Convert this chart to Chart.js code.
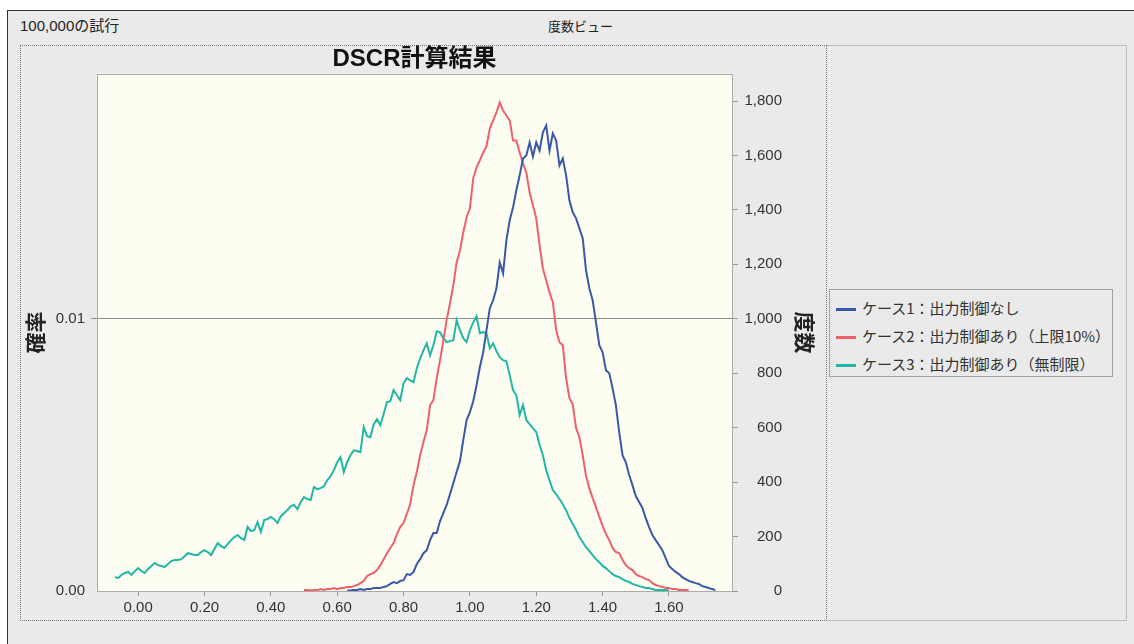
<!DOCTYPE html>
<html lang="ja">
<head>
<meta charset="utf-8">
<title>DSCR計算結果</title>
<script src="https://cdn.jsdelivr.net/npm/chart.js@4.4.0/dist/chart.umd.min.js"></script>
<style>
  body { margin: 0; background: #fff; width: 1134px; height: 644px; position: relative; overflow: hidden;
         font-family: 'Liberation Sans', 'Noto Sans CJK JP', sans-serif; color: #222; }
  .panel { position: absolute; left: 7px; top: 10px; right: 0; bottom: 0; background: #eaeaea;
           border-top: 1px solid #333; border-left: 1px solid #333; }
  .head_l { position: absolute; left: 20px; top: 14px; font-size: 15px; }
  .head_c { position: absolute; left: 548px; top: 16px; font-size: 13px; }
  .chart_box { position: absolute; left: 20px; top: 45px; width: 807px; height: 576px;
               border: 1px dotted #777; box-sizing: border-box; }
  .side_box { position: absolute; left: 827px; top: 45px; width: 300px; height: 576px;
              border: 1px solid #bdbdbd; border-left: none; box-sizing: border-box; }
  #chart_wrap { position: absolute; left: 20px; top: 45px; width: 807px; height: 576px; }
  .legend { position: absolute; left: 829px; top: 289px; width: 284px; height: 88px;
            border: 1px solid #a0a0a0; box-sizing: border-box; padding-top: 4px; }
  .legend div { height: 28px; line-height: 28px; font-size: 15px; font-family: 'Noto Sans CJK JP', sans-serif; color: #333; white-space: nowrap; }
  .legend span { display: inline-block; width: 20px; height: 3px; vertical-align: middle; margin: 0 6px 0 6px; }
</style>
</head>
<body>
<div class="panel"></div>
<div class="head_l">100,000の試行</div>
<div class="head_c">度数ビュー</div>
<div class="chart_box"></div>
<div class="side_box"></div>
<div id="chart_wrap"><canvas id="dscr_chart" width="807" height="576"></canvas></div>
<div class="legend" id="legend"></div>

<script>
// 빈 폭 (DSCR 0.01 단위)
const binWidth = 0.01;

const seriesLabels = ['ケース1：出力制御なし', 'ケース2：出力制御あり（上限10%）', 'ケース3：出力制御あり（無制限）'];
const seriesColors = ['#3a58a8', '#f0606a', '#22b6a6'];

// ケース1 : 0.63 부터
const case1Start = 0.63;
const case1Counts = [
  2, 2, 4, 4, 7, 4, 7,
  7, 11, 11, 11, 15, 18, 26, 33, 29, 37,
  40, 62, 59, 70, 99, 117, 139, 150, 187, 213,
  213, 257, 286, 316, 356, 396, 437, 477, 554, 628,
  657, 697, 756, 822, 877, 958, 1039, 1068, 1112, 1207,
  1167, 1288, 1362, 1409, 1472, 1527, 1589, 1600, 1648, 1596,
  1648, 1618, 1685, 1710, 1618, 1681, 1655, 1563, 1589, 1527,
  1435, 1391, 1369, 1332, 1296, 1178, 1112, 1068, 987, 903,
  877, 811, 800, 745, 683, 584, 499, 473, 426, 389,
  349, 327, 305, 268, 235, 206, 187, 169, 150, 121,
  92, 81, 70, 62, 51, 44, 37, 33, 29, 26,
  18, 15, 11, 7, 4
];

// ケース2 : 0.50 부터
const case2Start = 0.50;
const case2Counts = [
  4, 4, 2, 4, 3, 7, 4, 7, 7, 11,
  7, 11, 11, 15, 15, 18, 22, 29, 37, 55,
  62, 66, 77, 95, 117, 139, 158, 176, 209, 235,
  250, 283, 319, 389, 437, 499, 547, 591, 683, 701,
  782, 848, 921, 995, 1057, 1123, 1207, 1251, 1318, 1373,
  1406, 1516, 1556, 1582, 1611, 1633, 1699, 1729, 1758, 1795,
  1765, 1747, 1729, 1655, 1655, 1611, 1571, 1538, 1464, 1417,
  1369, 1270, 1185, 1141, 1097, 1061, 958, 914, 903, 782,
  708, 686, 598, 565, 499, 422, 378, 341, 308, 272,
  239, 209, 187, 158, 143, 139, 114, 95, 84, 77,
  62, 55, 51, 44, 40, 29, 22, 18, 15, 11,
  11, 7, 7, 4, 4, 4, 2
];

// ケース3 : -0.07 부터
const case3Start = -0.07;
const case3Counts = [
  51, 48, 59, 66, 70, 59, 73,
  84, 73, 66, 81, 92, 103, 95, 92, 88, 99,
  110, 114, 114, 117, 128, 139, 136, 132, 132, 143,
  150, 143, 132, 154, 176, 165, 158, 172, 187, 198,
  206, 194, 187, 235, 220, 224, 253, 217, 261, 264,
  272, 264, 250, 275, 286, 297, 312, 316, 301, 327,
  345, 338, 334, 382, 374, 378, 385, 407, 422, 444,
  473, 492, 437, 473, 499, 517, 514, 510, 602, 569,
  565, 613, 631, 609, 650, 694, 697, 738, 719, 701,
  763, 782, 774, 767, 818, 855, 884, 910, 866, 903,
  954, 950, 929, 914, 918, 921, 995, 958, 929, 914,
  958, 987, 1009, 947, 951, 947, 892, 910, 881, 859,
  848, 844, 793, 738, 719, 646, 683, 628, 613, 598,
  584, 536, 499, 444, 407, 371, 356, 338, 319, 297,
  268, 246, 224, 198, 180, 161, 147, 132, 117, 106,
  92, 84, 73, 62, 55, 51, 44, 37, 33, 26,
  22, 18, 15, 11, 11, 7, 4, 4, 4, 4, 2
];

// 축 눈금
const xTicks = [0, 0.2, 0.4, 0.6, 0.8, 1.0, 1.2, 1.4, 1.6];
const freqTicks = [0, 200, 400, 600, 800, 1000, 1200, 1400, 1600, 1800];
const probTicks = [0, 0.01];
const trials = 100000;
const xMin = -0.124, xMax = 1.79, freqMax = 1900;

function toPoints(start, counts) {
  return counts.map(function (c, i) {
    return { x: Math.round((start + i * binWidth) * 100) / 100, y: c };
  });
}

// 플롯 배경, 테두리
const plotFrame = {
  id: 'plotFrame',
  beforeDraw: function (chart) {
    const a = chart.chartArea, c = chart.ctx;
    c.save();
    c.fillStyle = '#fdfdf1';
    c.fillRect(a.left, a.top, a.right - a.left, a.bottom - a.top);
    c.restore();
  },
  beforeDatasetsDraw: function (chart) {
    const a = chart.chartArea, c = chart.ctx;
    c.save();
    c.strokeStyle = '#ababab';
    c.lineWidth = 1;
    c.strokeRect(Math.round(a.left) + 0.5, Math.round(a.top) + 0.5, Math.round(a.right - a.left), Math.round(a.bottom - a.top));
    c.restore();
  }
};

const tickFont = { family: "'Liberation Sans', sans-serif", size: 15 };
const titleFont = { family: "'Liberation Sans', 'Noto Sans CJK JP', sans-serif", size: 21, weight: 'bold' };

const datasets = [
  [case1Start, case1Counts],
  [case2Start, case2Counts],
  [case3Start, case3Counts]
].map(function (s, i) {
  return {
    label: seriesLabels[i],
    data: toPoints(s[0], s[1]),
    borderColor: seriesColors[i],
    borderWidth: 2,
    pointRadius: 0,
    tension: 0,
    fill: false,
    yAxisID: 'y'
  };
});

let dscrChart = new Chart(document.getElementById('dscr_chart'), {
  type: 'line',
  data: { datasets: datasets },
  plugins: [plotFrame],
  options: {
    responsive: false,
    animation: false,
    layout: { padding: 0 },
    plugins: {
      legend: { display: false },
      tooltip: { enabled: false },
      title: {
        display: true,
        text: 'DSCR計算結果',
        fullSize: false,
        color: '#111',
        font: { family: "'Liberation Sans', 'Noto Sans CJK JP', sans-serif", size: 24, weight: 'bold' },
        padding: { top: 0, bottom: 0 }
      }
    },
    scales: {
      x: {
        type: 'linear',
        min: xMin,
        max: xMax,
        afterBuildTicks: function (s) { s.ticks = xTicks.map(function (v) { return { value: v }; }); },
        afterFit: function (s) { s.height = 30; },
        ticks: { font: tickFont, color: '#333', padding: 3, maxRotation: 0, autoSkip: false,
                 callback: function (v) { return v.toFixed(2); } },
        grid: { drawOnChartArea: false, tickLength: 5, color: '#999' },
        border: { display: false }
      },
      y1: {
        position: 'left',
        min: 0,
        max: freqMax / trials,
        afterBuildTicks: function (s) { s.ticks = probTicks.map(function (v) { return { value: v }; }); },
        afterFit: function (s) { s.width = 77; },
        ticks: { font: tickFont, color: '#333', padding: 6, callback: function (v) { return v.toFixed(2); } },
        grid: {
          tickLength: 6,
          color: function (c) { return c.tick && c.tick.value === 0 ? 'rgba(0,0,0,0)' : '#8c8c8c'; }
        },
        border: { display: false },
        title: { display: true, text: '確率', color: '#222', font: titleFont, padding: { top: 5, bottom: 0 } }
      },
      y: {
        position: 'right',
        min: 0,
        max: freqMax,
        afterBuildTicks: function (s) { s.ticks = freqTicks.map(function (v) { return { value: v }; }); },
        afterFit: function (s) { s.width = 50; },
        ticks: { font: tickFont, color: '#333', crossAlign: 'far',
                 callback: function (v) { return v.toLocaleString('en-US'); } },
        grid: { drawOnChartArea: false, tickLength: 6, color: '#999' },
        border: { display: false }
      },
      yTitle: {
        position: 'right',
        weight: 1,
        min: 0,
        max: 1,
        afterFit: function (s) { s.width = 45; },
        ticks: { display: false },
        grid: { display: false },
        border: { display: false },
        title: { display: true, text: '度数', color: '#222', font: titleFont, padding: { top: 12, bottom: 0 } }
      }
    }
  }
});

// 범례 (HTML)
const legendBox = document.getElementById('legend');
dscrChart.data.datasets.forEach(function (ds) {
  const row = document.createElement('div');
  const sw = document.createElement('span');
  sw.style.background = ds.borderColor;
  row.appendChild(sw);
  row.appendChild(document.createTextNode(ds.label));
  legendBox.appendChild(row);
});
</script>
</body>
</html>
